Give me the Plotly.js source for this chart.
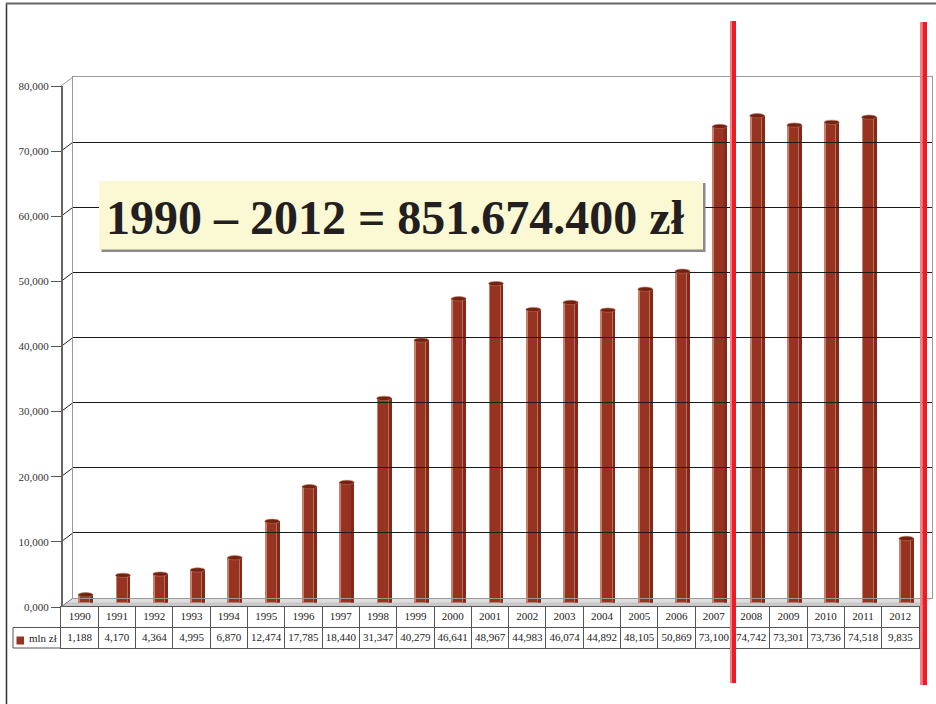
<!DOCTYPE html>
<html>
<head>
<meta charset="utf-8">
<script src="https://cdn.plot.ly/plotly-3.0.1.min.js"></script>
<style>html,body{margin:0;padding:0;background:#fff;}#chart{width:936px;height:704px;}</style>
</head>
<body>
<div id="chart"></div>
<script>
// ---- data ----
const years = [1990,1991,1992,1993,1994,1995,1996,1997,1998,1999,2000,2001,2002,2003,2004,2005,2006,2007,2008,2009,2010,2011,2012];
const values = [1188,4170,4364,4995,6870,12474,17785,18440,31347,40279,46641,48967,44983,46074,44892,48105,50869,73100,74742,73301,73736,74518,9835];
const yTickVals = [0,10000,20000,30000,40000,50000,60000,70000,80000];
const yTickText = ["0,000","10,000","20,000","30,000","40,000","50,000","60,000","70,000","80,000"];
const seriesName = "mln zł";
const boxText = "1990 – 2012 = 851.674.400 zł";

// ---- helpers ----
const W = 936, H = 704;
const px = x => x / W;
const py = y => 1 - y / H;
const fmt = v => String(v).replace(/\B(?=(\d{3})+(?!\d))/g, ",");
const yMax = 80000;
const serif = "Liberation Serif";
const barColor = "#963321";
const xRange = [years[0] - 0.5, years[years.length - 1] + 0.5];

// geometry (pixels)
const frontLeft = 61, frontRight = 919, frontBase = 607, frontTop = 86;
const backLeft = 73, backRight = 932, backBase = 598, backTop = 77;
const tableBottom = 648;
const span = frontBase - frontTop; // pixels for 0..80000

const traces = [];
traces.push({type:"bar", x:years, y:values, width:0.4, marker:{color:barColor, line:{width:0}}, xaxis:"x", yaxis:"y", hoverinfo:"skip", name:seriesName});
traces.push({type:"bar", x:years, y:values, width:0.05, offset:-0.2, marker:{color:"#c8806c", line:{width:0}}, xaxis:"x", yaxis:"y", hoverinfo:"skip"});
traces.push({type:"bar", x:years, y:values, width:0.09, offset:0.11, marker:{color:"#84291a", line:{width:0}}, xaxis:"x", yaxis:"y", hoverinfo:"skip"});
traces.push({type:"bar", x:years, y:values, width:0.025, offset:0.1, marker:{color:"#bd6a57", line:{width:0}}, xaxis:"x", yaxis:"y", hoverinfo:"skip"});
traces.push({type:"scatter", mode:"text", x:years, y:years.map(()=>1.5), text:years.map(String),
  textfont:{family:serif, size:11, color:"#222"}, xaxis:"x2", yaxis:"y4", hoverinfo:"skip", cliponaxis:false});
traces.push({type:"scatter", mode:"text", x:years, y:years.map(()=>0.5), text:values.map(fmt),
  textfont:{family:serif, size:11, color:"#222"}, xaxis:"x2", yaxis:"y4", hoverinfo:"skip", cliponaxis:false});
traces.push({type:"scatter", mode:"markers", x:[years[0]], y:[0], marker:{opacity:0}, xaxis:"x3", yaxis:"y3", hoverinfo:"skip"});
traces.push({type:"scatter", mode:"markers", x:[years[0]], y:[0], marker:{opacity:0}, xaxis:"x3", yaxis:"y2", hoverinfo:"skip"});

const shapes = [];
shapes.push({type:"path", xref:"paper", yref:"paper", layer:"below",
  path:`M ${px(frontLeft)} ${py(frontBase)} L ${px(frontRight)} ${py(frontBase)} L ${px(backRight)} ${py(backBase)} L ${px(backLeft)} ${py(backBase)} Z`,
  fillcolor:"#c9c9c9", line:{width:0}});
shapes.push({type:"path", xref:"paper", yref:"paper", layer:"below",
  path:`M ${px(frontLeft+6)} ${py(frontBase-4.5)} L ${px(frontRight+6)} ${py(frontBase-4.5)} L ${px(backRight)} ${py(backBase)} L ${px(backLeft)} ${py(backBase)} Z`,
  fillcolor:"#dedede", line:{width:0}});
shapes.push({type:"line", xref:"paper", yref:"paper", layer:"below",
  x0:px(frontLeft), y0:py(frontBase), x1:px(backLeft), y1:py(backBase), line:{color:"#777", width:1}});
yTickVals.forEach(v => {
  if (v === 0) return;
  const off = v / yMax * span;
  shapes.push({type:"line", xref:"paper", yref:"paper", layer:"below",
    x0:px(frontLeft), y0:py(frontBase - off), x1:px(backLeft), y1:py(backBase - off),
    line:{color: v === yMax ? "#999" : "#222", width:1}});
});
years.forEach((yr, i) => {
  const v = values[i];
  shapes.push({type:"circle", xref:"x", yref:"y", layer:"above",
    x0:yr - 0.2, x1:yr + 0.2, y0:v - 330, y1:v + 330,
    fillcolor:"#72220f", line:{color:"#b5705e", width:0.6}});
});
shapes.push({type:"path", xref:"paper", yref:"paper", layer:"above",
  path:`M ${px(frontLeft)} ${py(627.5)} L ${px(13)} ${py(627.5)} L ${px(13)} ${py(tableBottom)} L ${px(frontLeft)} ${py(tableBottom)}`,
  line:{color:"#555", width:1}});
shapes.push({type:"rect", xref:"paper", yref:"paper", layer:"above",
  x0:px(16.5), x1:px(24), y0:py(644.5), y1:py(636.5), fillcolor:barColor, line:{width:0}});
shapes.push({type:"rect", xref:"paper", yref:"paper", layer:"above",
  x0:px(101.5), x1:px(705.5), y0:py(252), y1:py(183), fillcolor:"#8a8a8a", line:{width:0}});
shapes.push({type:"rect", xref:"paper", yref:"paper", layer:"above",
  x0:px(99), x1:px(703), y0:py(249.5), y1:py(181), fillcolor:"#fbf9d4", line:{width:0}});
shapes.push({type:"line", xref:"paper", yref:"paper", layer:"above",
  x0:px(6.5), x1:px(6.5), y0:py(3), y1:py(704), line:{color:"#333", width:1.5}});
shapes.push({type:"line", xref:"paper", yref:"paper", layer:"above",
  x0:px(6), x1:px(936), y0:py(3.5), y1:py(3.5), line:{color:"#666", width:2}});
shapes.push({type:"rect", xref:"paper", yref:"paper", layer:"above",
  x0:px(730), x1:px(732), y0:py(683), y1:py(21), fillcolor:"#f47f83", line:{width:0}});
shapes.push({type:"rect", xref:"paper", yref:"paper", layer:"above",
  x0:px(732), x1:px(736), y0:py(683), y1:py(21), fillcolor:"#ec1c24", line:{width:0}});
shapes.push({type:"rect", xref:"paper", yref:"paper", layer:"above",
  x0:px(920), x1:px(922.5), y0:py(685), y1:py(22), fillcolor:"#f47f83", line:{width:0}});
shapes.push({type:"rect", xref:"paper", yref:"paper", layer:"above",
  x0:px(922.5), x1:px(927), y0:py(685), y1:py(22), fillcolor:"#ec1c24", line:{width:0}});

const annotations = [
  {xref:"paper", yref:"paper", x:px(395), y:py(217), xanchor:"center", yanchor:"middle", showarrow:false,
   text:"<b>" + boxText + "</b>", font:{family:serif, size:48, color:"#231f20"}},
  {xref:"paper", yref:"paper", x:px(27), y:py(638), xanchor:"left", yanchor:"middle", showarrow:false,
   text:seriesName, font:{family:serif, size:11, color:"#222"}}
];

const layout = {
  width:W, height:H, autosize:false,
  font:{family:serif},
  margin:{l:0, r:0, t:0, b:0, pad:0},
  paper_bgcolor:"#ffffff", plot_bgcolor:"rgba(0,0,0,0)",
  showlegend:false, barmode:"overlay", bargap:0,
  xaxis:{domain:[px(frontLeft + 6), px(frontRight + 6)], range:xRange, visible:false, anchor:"y", fixedrange:true},
  yaxis:{domain:[py(frontBase - 4.5), py(frontTop - 4.5)], range:[0, yMax], visible:false, anchor:"x", fixedrange:true},
  xaxis3:{domain:[px(backLeft), px(backRight)], range:xRange, anchor:"y3", showgrid:false, zeroline:false,
    showticklabels:false, ticks:"", showline:true, mirror:true, linecolor:"#9a9a9a", linewidth:1, fixedrange:true},
  yaxis3:{domain:[py(backBase), py(backTop)], range:[0, yMax], anchor:"x3", tickvals:yTickVals.slice(1, -1),
    showticklabels:false, ticks:"", showgrid:true, gridcolor:"#1a1a1a", gridwidth:1, zeroline:false,
    showline:true, mirror:true, linecolor:"#9a9a9a", linewidth:1, fixedrange:true},
  yaxis2:{domain:[py(frontBase), py(frontTop)], range:[0, yMax], anchor:"free", position:px(frontLeft),
    tickvals:yTickVals, ticktext:yTickText, ticks:"outside", ticklen:10, tickwidth:1, tickcolor:"#555",
    showline:true, linecolor:"#666", linewidth:1.5, showgrid:false, zeroline:false,
    tickfont:{family:serif, size:11, color:"#333"}, fixedrange:true},
  xaxis2:{domain:[px(frontLeft), px(frontRight)], range:xRange, anchor:"y4",
    tickvals:years.map(y => y - 0.5), showticklabels:false, ticks:"", showgrid:true, gridcolor:"#555", gridwidth:1,
    zeroline:false, showline:true, mirror:true, linecolor:"#555", linewidth:1, fixedrange:true},
  yaxis4:{domain:[py(tableBottom), py(frontBase)], range:[0, 2], anchor:"x2", tickvals:[1],
    showticklabels:false, ticks:"", showgrid:true, gridcolor:"#555", gridwidth:1, zeroline:false,
    showline:true, mirror:true, linecolor:"#555", linewidth:1, fixedrange:true},
  shapes:shapes,
  annotations:annotations
};

Plotly.newPlot("chart", traces, layout, {displayModeBar:false, staticPlot:true});
</script>
</body>
</html>
